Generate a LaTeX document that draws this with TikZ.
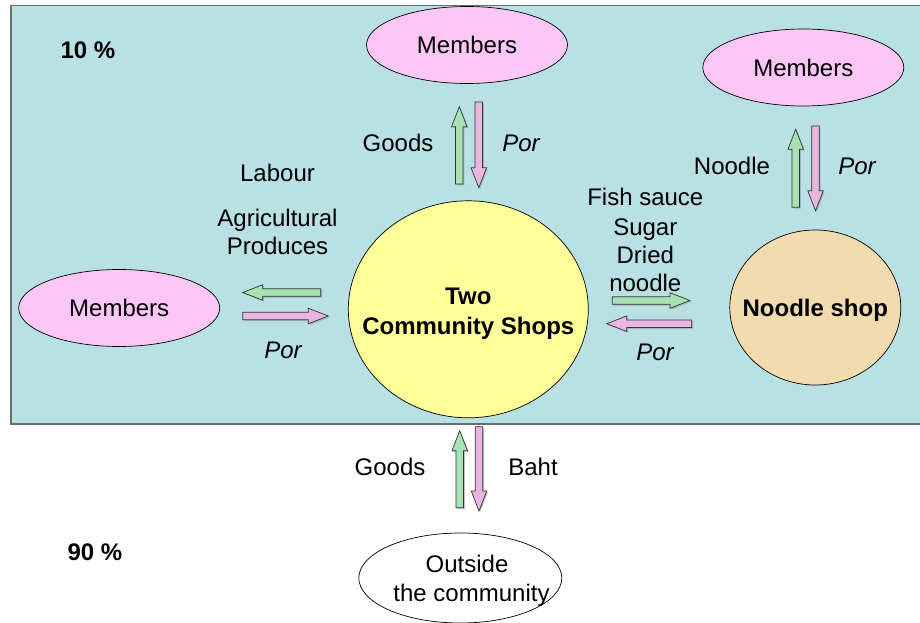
\documentclass[tikz,border=0pt]{standalone}
\usepackage{fontspec}
\setmainfont{Liberation Sans}
\usetikzlibrary{shapes.geometric}

\definecolor{panel}{RGB}{185,224,227}
\definecolor{panelline}{RGB}{105,110,112}
\definecolor{memberpink}{RGB}{252,198,246}
\definecolor{shopyellow}{RGB}{255,255,153}
\definecolor{noodlewheat}{RGB}{242,220,174}
\definecolor{goodsgreen}{RGB}{168,226,180}
\definecolor{paypink}{RGB}{232,182,224}

% Block arrow from tail (#2,#3) to tip (#4,#5), drawn with a soft shadow.
\newcommand\blockarrow[5]{%
  \pgfmathsetmacro\bdx{#4-#2}%
  \pgfmathsetmacro\bdy{#5-#3}%
  \pgfmathsetmacro\blen{veclen(\bdx,\bdy)}%
  \pgfmathsetmacro\bux{\bdx/\blen}%
  \pgfmathsetmacro\buy{\bdy/\blen}%
  \foreach \off/\sty in {1.3/arrowshadow, 0/#1}{%
    \draw[\sty, shift={(\off,\off)}]
      ({#2-3.75*\buy},{#3+3.75*\bux})
      -- ({#4-20*\bux-3.75*\buy},{#5-20*\buy+3.75*\bux})
      -- ({#4-20*\bux-7.75*\buy},{#5-20*\buy+7.75*\bux})
      -- (#4,#5)
      -- ({#4-20*\bux+7.75*\buy},{#5-20*\buy-7.75*\bux})
      -- ({#4-20*\bux+3.75*\buy},{#5-20*\buy-3.75*\bux})
      -- ({#2+3.75*\buy},{#3-3.75*\bux}) -- cycle;
  }%
}

\tikzset{
  txt/.style={font=\fontsize{24}{29}\selectfont, inner sep=0pt, anchor=base},
  bold/.style={txt, font=\fontsize{24}{29}\selectfont\bfseries},
  por/.style={txt, font=\fontsize{24}{29}\selectfont\itshape},
  member/.style={ellipse, draw=black, line width=0.7pt, fill=memberpink,
    minimum width=201pt, minimum height=77pt, inner sep=0pt,
    font=\fontsize{24}{29}\selectfont},
  goodsarrow/.style={fill=goodsgreen, draw=black!80, line width=0.7pt, line join=miter},
  payarrow/.style={fill=paypink, draw=black!80, line width=0.7pt, line join=miter},
  arrowshadow/.style={fill=black!40, draw=none, opacity=0.6},
}

\begin{document}
\begin{tikzpicture}[x=1pt, y=-1pt]
\useasboundingbox (0,0) rectangle (920,623);

% community panel
\fill[white] (0,0) rectangle (920,623);
\draw[fill=panel, draw=panelline, line width=1.2pt] (935,5.5) -- (11,5.5) -- (11,424) -- (935,424);

\node[bold] (pct10) at (88,58.5) {10 \%};
\node[bold] (pct90) at (95,560.5) {90 \%};

% members
\node[member] (memtop) at (467,45) {Members};
\node[member] (memright) at (803.3,67.5) {Members};
\node[member] (memleft) at (119.2,308) {Members};

% shops
\node[ellipse, draw=black, line width=0.7pt, fill=shopyellow,
      minimum width=240pt, minimum height=217pt] (shops) at (468.3,309.3) {};
\node[bold] (shops1) at (468.3,304.3) {Two};
\node[bold] (shops2) at (468.3,334.5) {Community Shops};

\node[ellipse, draw=black, line width=0.7pt, fill=noodlewheat,
      minimum width=171pt, minimum height=155pt] (noodle) at (815.3,307.5) {};
\node[bold] (noodletxt) at (815.3,316.7) {Noodle shop};

\node[ellipse, draw=black, line width=0.7pt, fill=white,
      minimum width=203pt, minimum height=90pt] (outside) at (460.3,578) {};
\node[txt] (outside1) at (467,572.3) {Outside};
\node[txt] (outside2) at (471.5,601.7) {the community};

% flows between members and shops
\blockarrow{goodsarrow}{459.3}{184}{459.3}{106.7}
\blockarrow{payarrow}{478.8}{102}{478.8}{187.7}
\node[txt] (goodstop) at (398,151.6) {Goods};
\node[por] (portop) at (521,151.6) {Por};

\blockarrow{goodsarrow}{320.7}{292.5}{242.7}{292.5}
\blockarrow{payarrow}{242.7}{316}{328.3}{316}
\node[txt] (labour) at (277.5,181.7) {Labour};
\node[txt] (agri1) at (277.5,226) {Agricultural};
\node[txt] (agri2) at (277.5,254) {Produces};
\node[por] (porleft) at (283,358.6) {Por};

% flows between shops and noodle shop
\node[txt] (fish) at (645.3,205) {Fish sauce};
\node[txt] (sugar) at (645.3,235) {Sugar};
\node[txt] (dried) at (645.3,263.3) {Dried};
\node[txt] (dnoodle) at (645.3,291.7) {noodle};
\blockarrow{goodsarrow}{612.3}{300.5}{690}{300.5}
\blockarrow{payarrow}{691.7}{323.7}{606.7}{323.7}
\node[por] (porright) at (655,360.6) {Por};

% flows between noodle shop and its members
\blockarrow{goodsarrow}{795.7}{207.3}{795.7}{129.3}
\blockarrow{payarrow}{815.5}{126}{815.5}{210.7}
\node[txt] (noodlegoods) at (732,174.6) {Noodle};
\node[por] (pornoodle) at (857,174.6) {Por};

% flows with the outside
\blockarrow{goodsarrow}{459.7}{507.7}{459.7}{430.7}
\blockarrow{payarrow}{479}{426.7}{479}{511}
\node[txt] (goodsout) at (390,475.7) {Goods};
\node[txt] (baht) at (533,475.7) {Baht};
\end{tikzpicture}
\end{document}
